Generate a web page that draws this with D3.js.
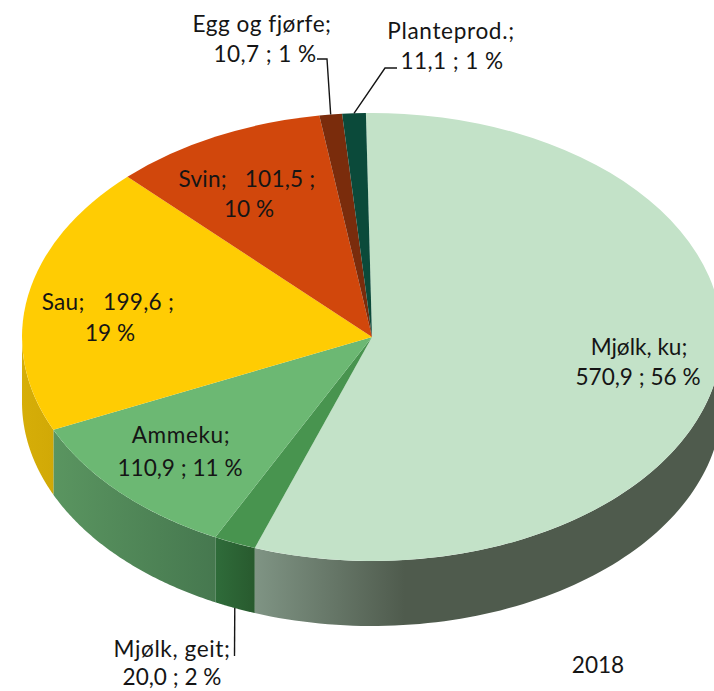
<!DOCTYPE html>
<html><head><meta charset="utf-8">
<script src="https://cdn.jsdelivr.net/npm/d3@7"></script>
<style>html,body{margin:0;padding:0;background:#fff}svg{display:block}text{font-family:Lato,"Open Sans",sans-serif;font-size:22.6px;fill:#151515;text-anchor:middle;white-space:pre}</style>
</head><body><div id="chart"></div>
<script>
const categories = ["Mjølk, ku","Mjølk, geit","Ammeku","Sau","Svin","Egg og fjørfe","Planteprod."];
const values = [570.9,20.0,110.9,199.6,101.5,10.7,11.1];
const percents = [56,2,11,19,10,1,1];
const topColors = ["#c3e2c8","#48944f","#6cb873","#ffcc03","#d1470c","#7a2c0c","#0b4a3a"];
const wallStart = ["#7f9484","#2f6c3a","#5a9560","#d6ae08","#a33","#000","#000"];
const wallEnd = ["#4f5b4d","#285a2e","#46784f","#d1a906","#a33","#000","#000"];

const W=714,H=691,cx=372,cy=337,rx=350,ry=224,depth=65;
const svg=d3.select("#chart").append("svg").attr("width",W).attr("height",H);
const defs=svg.append("defs");
const deg=Math.PI/180;
const pie=d3.pie().sort(null).startAngle(-1*deg).endAngle(359*deg);
const arcs=pie(values);
const px=a=>cx+rx*Math.sin(a), py=a=>cy-ry*Math.cos(a);

// side walls: only the front half of the ellipse is visible
const line=d3.line();
arcs.forEach((d,i)=>{
  const a0=Math.max(d.startAngle,90*deg), a1=Math.min(d.endAngle,270*deg);
  if(a1<=a0) return;
  const n=80, as=d3.range(n+1).map(k=>a0+(a1-a0)*k/n);
  const pts=as.map(a=>[px(a),py(a)]).concat(as.slice().reverse().map(a=>[px(a),py(a)+depth]));
  const id="wall"+i;
  const xe=px(a1);
  const lg=defs.append("linearGradient").attr("id",id).attr("gradientUnits","userSpaceOnUse")
    .attr("x1",xe).attr("x2",i===0?xe+150:px(a0)).attr("y1",0).attr("y2",0);
  lg.append("stop").attr("offset",0).attr("stop-color",wallStart[i]);
  lg.append("stop").attr("offset",1).attr("stop-color",wallEnd[i]);
  svg.append("path").attr("d",line(pts)+"Z").attr("fill",`url(#${id})`);
});

// top face
const arc=d3.arc().innerRadius(0).outerRadius(rx);
svg.append("g").attr("transform",`translate(${cx},${cy}) scale(1,${ry/rx})`)
  .selectAll("path").data(arcs).join("path")
  .attr("d",arc).attr("fill",(d,i)=>topColors[i]);

// leader lines start on the wedge rim
const mid=d=>(d.startAngle+d.endAngle)/2;
const leaders=svg.append("g").attr("fill","none").attr("stroke","#151515").attr("stroke-width",1.4);
const egg=arcs[5],pl=arcs[6],ge=arcs[1];
leaders.append("path").attr("d",line([[317,59],[327,59],[px(mid(egg)),py(mid(egg))]]));
leaders.append("path").attr("d",line([[397,68],[385,68],[px(mid(pl)),py(mid(pl))]]));
leaders.append("path").attr("d",line([[234.5,656],[px(mid(ge)),py(mid(ge))+depth]]));

const fmt=v=>v.toFixed(1).replace(".",",");
function label(x,y1,y2,a,b,s1,s2){
  const t=svg.append("text");
  t.append("tspan").attr("x",x[0]).attr("y",y1).attr("letter-spacing",s1).text(a);
  t.append("tspan").attr("x",x[1]).attr("y",y2).attr("letter-spacing",s2).text(b);
}
const lab=i=>`${fmt(values[i])} ; ${percents[i]} %`;
label([639,638],355,385,categories[0]+";",lab(0),0,0);
label([172,172],657,685,categories[1]+";",lab(1),.6,0);
label([181,180],443,476,categories[2]+";",lab(2),.6,0);
label([108,110],310,341,`${categories[3]};   ${fmt(values[3])} ;`,`${percents[3]} %`,.3,0);
label([247,249],187,217,`${categories[4]};   ${fmt(values[4])} ;`,`${percents[4]} %`,.2,0);
label([262,265],32,62,categories[5]+";",lab(5),.5,.4);
label([451,452],39,69,categories[6]+";",lab(6),.65,.4);
svg.append("text").attr("x",598).attr("y",673).text("2018");
</script></body></html>
